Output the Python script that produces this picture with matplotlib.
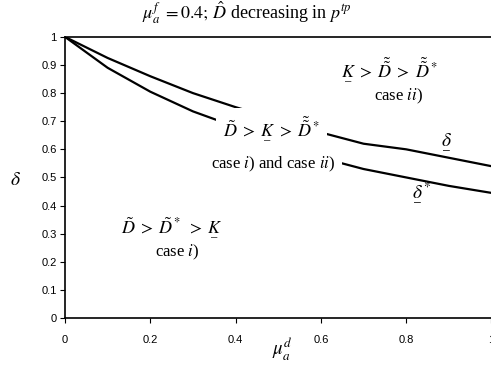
import matplotlib
matplotlib.use('Agg')
import matplotlib.pyplot as plt

# values
mu_d = [0.0, 0.1, 0.2, 0.3, 0.4, 0.5, 0.6, 0.7, 0.8, 0.9, 1.0]
delta_low = [1.0, 0.925, 0.86, 0.80, 0.75, 0.705, 0.66, 0.62, 0.60, 0.57, 0.54]
delta_star = [1.0, 0.89, 0.805, 0.735, 0.68, 0.62, 0.57, 0.53, 0.50, 0.47, 0.445]
x_ticks = [0, 0.2, 0.4, 0.6, 0.8, 1]
x_ticklabels = ['0', '0.2', '0.4', '0.6', '0.8', '1']
y_ticks = [0, 0.1, 0.2, 0.3, 0.4, 0.5, 0.6, 0.7, 0.8, 0.9, 1]
y_ticklabels = ['0', '0.1', '0.2', '0.3', '0.4', '0.5', '0.6', '0.7', '0.8', '0.9', '1']

plt.rcParams['mathtext.fontset'] = 'stix'
plt.rcParams['font.family'] = ['Liberation Serif', 'DejaVu Serif']

K = r'\underset{\_}{K}'
gt = r'\;>\;'

fig = plt.figure(figsize=(4.91, 3.67), dpi=100)
ax = fig.add_axes([0.1324, 0.1335, 0.8686, 0.766])

ax.plot(mu_d, delta_low, color='black', lw=1.6, zorder=2)
ax.plot(mu_d, delta_star, color='black', lw=1.6, zorder=2)

ax.set_xlim(0, 1)
ax.set_ylim(0, 1)
ax.set_xticks(x_ticks)
ax.set_xticklabels(x_ticklabels, family='Liberation Sans', fontsize=8)
ax.set_yticks(y_ticks)
ax.set_yticklabels(y_ticklabels, family='Liberation Sans', fontsize=8)
ax.tick_params(axis='x', length=3.5, pad=9, direction='out')
ax.tick_params(axis='y', length=3.5, pad=2.5, direction='out')
ax.spines['right'].set_visible(False)
for s in ['left', 'bottom', 'top']:
    ax.spines[s].set_linewidth(1.2)

fig.text(0.503, 0.965, r'$\mu_a^f\;=0.4;\,\hat{D}$ decreasing in $p^{tp}$',
         fontsize=13, ha='center', va='center')
ax.set_xlabel(r'$\mu_a^d$', fontsize=13.5)
ax.xaxis.set_label_coords(0.51, -0.065)
ax.set_ylabel(r'$\delta$', fontsize=14, rotation=0, va='center', ha='center')
ax.yaxis.set_label_coords(-0.117, 0.49)

ax.text(0.761, 0.878, r'$' + K + gt + r'\tilde{\tilde{D}}' + gt + r'\tilde{\tilde{D}}^*$',
        fontsize=13, ha='center', va='center')
ax.text(0.782, 0.79, r'case $ii$)', fontsize=12, ha='center', va='center')
ax.text(0.485, 0.669, r'$\tilde{D}' + gt + K + gt + r'\tilde{\tilde{D}}^*$',
        fontsize=13, ha='center', va='center', zorder=3,
        bbox=dict(facecolor='white', edgecolor='none', pad=5))
ax.text(0.487, 0.548, r'case $i$) and case $ii$)', fontsize=12,
        ha='center', va='center', zorder=3,
        bbox=dict(facecolor='white', edgecolor='none', pad=5))
ax.text(0.251, 0.32, r'$\tilde{D}' + gt + r'\tilde{D}^*' + gt + K + r'$',
        fontsize=13, ha='center', va='center')
ax.text(0.262, 0.235, r'case $i$)', fontsize=12, ha='center', va='center')
ax.text(0.895, 0.625, r'$\underset{\_}{\delta}$', fontsize=14, ha='center', va='center')
ax.text(0.836, 0.44, r'$\underset{\_}{\delta}^*$', fontsize=14, ha='center', va='center')

fig.savefig('out.png', dpi=100)
